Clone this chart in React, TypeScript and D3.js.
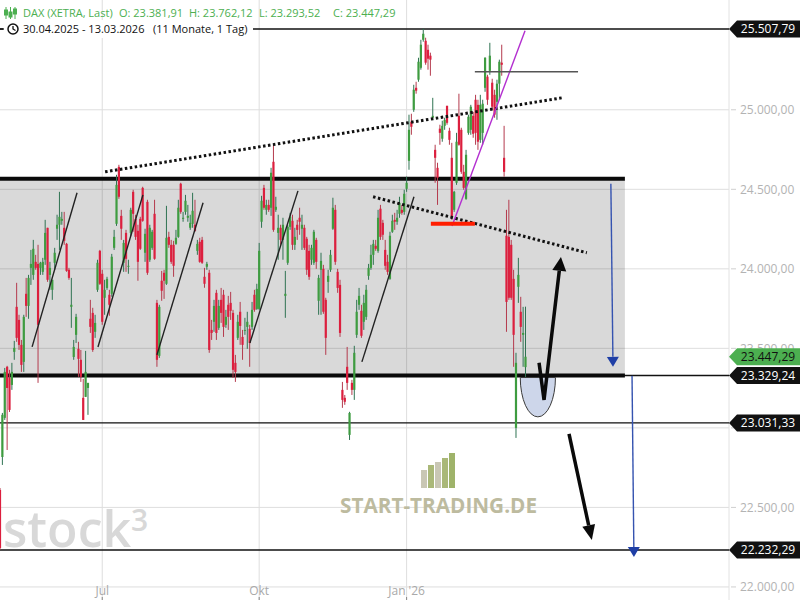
import React from "react";
import * as d3 from "d3";

// ---------- data (DAX XETRA daily, 30.04.2025 - 13.03.2026) ----------
const opens = [22610,22817,23063,23384,23314,23270,23478,23761,23679,23522,23415,23843,23767,24006,23962,24044,24031,24006,23981,24057,24258,23962,23868,24038,24252,24277,24302,24258,24157,23994,23761,23446,23585,23497,23428,23189,23195,23251,23686,23723,23604,23868,24113,23969,23818,23880,23837,23843,24132,24283,24641,24333,24038,24226,24013,24226,24484,24314,24239,24314,24509,24101,24421,24057,24132,24346,23786,23453,23925,23975,23906,24201,24151,24151,24157,24201,24535,24314,24358,24321,24258,24283,24277,24113,24170,24182,23950,24013,23975,23616,23667,23849,23629,23805,23837,23648,23774,23786,23723,23409,23566,23730,23572,23610,23635,23623,23635,23837,23748,23748,24296,24509,24371,24402,24384,24673,24371,24226,24258,24182,23830,24038,24264,24302,24151,24277,24321,24252,24258,24189,24113,24057,24038,24182,23799,23994,24000,23805,23918,23994,24252,24371,23981,23899,23239,23189,23384,22956,23283,23239,23585,23774,23736,23667,23698,23956,24006,24088,24145,24113,24378,24289,24119,24044,23937,24233,24308,24296,24346,24371,24358,24503,24679,24925,25000,25138,25189,25264,25440,25434,25377,25340,24950,24748,24635,24881,24818,24899,25025,24868,24698,24371,24541,24962,24874,24610,24440,24855,24874,24962,25063,25031,24811,24855,25138,25208,25245,25170,25094,25050,25164,25296,24698,24208,24201,24151,23937,23000,23887,23730,23585,23381.91];
const highs = [22622,23094,23377,23390,23365,23409,23547,23912,23711,23553,23711,23943,23962,24119,24182,24088,24151,24044,24069,24308,24258,24044,23931,24132,24340,24484,24358,24358,24163,24006,23943,23553,23717,23541,23490,23308,23484,23283,23805,23755,23711,24057,24119,23994,23931,23950,23868,24094,24245,24591,24654,24371,24182,24245,24057,24384,24497,24340,24277,24327,24516,24252,24434,24277,24245,24434,23805,23774,23987,23994,24396,24233,24182,24176,24245,24434,24541,24358,24465,24402,24340,24478,24434,24182,24195,24201,24006,24044,23994,23679,23805,23868,23805,23880,23868,23742,23830,23855,23742,23459,23711,23792,23616,23692,23730,23648,23792,23868,23906,24163,24459,24528,24434,24434,24635,24780,24453,24340,24277,24321,23987,24277,24352,24340,24258,24308,24384,24340,24277,24201,24151,24151,24245,24195,23962,24101,24025,23818,23994,24119,24447,24402,24000,23931,23289,23207,23509,23101,23302,23516,23805,23880,23774,23837,23899,24031,24151,24182,24182,24371,24402,24308,24182,24088,24233,24340,24352,24371,24453,24402,24497,24579,24969,24975,25157,25176,25327,25440,25509,25453,25409,25359,25075,24780,24667,24906,24931,24950,25025,24887,24792,24490,24855,25101,24887,24654,24748,24969,25031,24987,25094,25063,25094,25063,25330,25220,25421,25195,25126,25189,25315,25409,24899,24371,24434,24182,23994,23472,24069,23824,23761,23762.12];
const lows = [22232,22767,23050,22861,23100,23239,23428,23541,23490,23352,23352,23698,23686,23899,23931,23994,23283,23962,23962,24025,23918,23868,23805,23994,24182,24119,24277,24151,23981,23931,23629,23428,23534,23321,23289,23050,23195,23082,23597,23478,23566,23855,23899,23648,23711,23868,23705,23824,24119,24270,24440,24182,23981,23981,23969,24207,24233,24182,23925,24119,24296,24044,23962,24044,24119,24057,23384,23440,23799,23811,23899,24132,24031,23950,24151,24195,24346,24296,24340,24296,24245,24258,24233,24088,24038,24031,23881,23994,23472,23553,23604,23553,23616,23660,23572,23629,23616,23679,23314,23289,23553,23522,23428,23585,23497,23384,23616,23730,23742,23742,24258,24371,24340,24358,24333,24233,24358,24057,24151,24057,23692,24025,24245,24119,24119,24182,24214,24119,24119,23962,23931,24025,24025,24000,23711,23711,23717,23459,23849,23981,24245,24025,23849,23572,23126,23145,23239,22924,23207,23176,23566,23742,23566,23616,23679,23931,23994,24025,24113,24101,24182,24182,23994,23962,23931,24226,24245,24277,24321,24340,24340,24484,24623,24843,24987,25101,25176,25252,25428,25283,25252,25214,24937,24541,24402,24780,24799,24874,24906,24780,24308,24358,24528,24774,24597,24497,24434,24843,24843,24824,24780,24748,24792,24780,25113,25031,25220,25000,24950,24937,25063,25214,24579,23604,23805,23805,23384,22937,23786,23541,23384,23293.52];
const closes = [22245,23082,23352,23251,23113,23352,23503,23566,23522,23396,23698,23767,23943,24031,24126,24006,23648,24038,24044,24226,23931,24006,23931,24101,24277,24327,24314,24176,23987,23943,23774,23509,23698,23434,23321,23050,23352,23283,23635,23490,23660,24038,23906,23667,23868,23937,23774,24076,24201,24528,24453,24252,24163,24063,24019,24371,24346,24201,24044,24126,24302,24220,23975,24258,24233,24063,23428,23761,23862,23925,24195,24151,24044,24019,24195,24384,24358,24321,24428,24333,24289,24365,24239,24157,24044,24038,23906,24031,23490,23597,23767,23597,23767,23723,23635,23698,23698,23736,23365,23352,23667,23641,23522,23616,23667,23534,23742,23742,23874,24113,24428,24384,24402,24371,24604,24245,24390,24258,24182,24277,23843,24264,24327,24151,24201,24245,24296,24277,24132,23994,23950,24132,24233,24044,23943,24050,23730,23566,23956,24088,24384,24044,23880,23597,23176,23164,23283,23094,23239,23472,23730,23830,23579,23786,23868,24006,24088,24157,24126,24321,24201,24214,24019,23981,24208,24302,24296,24321,24415,24352,24472,24541,24874,24893,25126,25120,25302,25409,25478,25296,25321,25315,24962,24698,24572,24855,24899,24937,24918,24811,24321,24484,24799,24780,24610,24509,24717,24956,25019,24849,24855,24799,25031,25038,25327,25063,25340,25019,24969,25164,25302,25283,24610,23792,23818,23818,23585,23409,23962,23635,23597,23447.29];

const priceTicks = [22000, 22500, 23000, 23500, 24000, 24500, 25000];
const timeTickLabels = ["Jul", "Okt", "Jan '26"];
const timeTickIndex = [43, 109, 171];
const levelValues = [25507.79, 23329.24, 23031.33, 22232.29];
const rangeTop = 24566;
const rangeBottom = 23329.24;
const periodText = "30.04.2025 - 13.03.2026";
const spanText = "(11 Monate, 1 Tag)";

// drawn studies, in (candle index, price)
const trendLines = [
  [[13.5, 23509], [32.4, 24478]],
  [[41.2, 23509], [60.1, 24465]],
  [[66.0, 23459], [85.4, 24415]],
  [[105.1, 23534], [125.3, 24490]],
  [[152.2, 23415], [174.1, 24453]],
];
const dottedLines = [
  [[44.2, 24610], [236.3, 25075]],
  [[156.9, 24453], [246.8, 24101]],
];
const magentaLine = [[190.1, 24270], [220.8, 25497]];
const redLevel = [[181.2, 24283], [199.7, 24283]];
const greyLevel = [[199.7, 25239], [243.1, 25239]];
const boxEndIndex = 262.8;
const blueArrows = [
  [[256.9, 24535], [257.8, 23384]],
  [[265.8, 23327], [266.6, 22188]],
];
const vArrow = [[226.7, 23409], [228.8, 23176], [235.9, 24075]];
const downArrow = [[239.3, 22962], [248.9, 22295]];
const bowl = { center: 226.2, halfWidth: 7.4, bottom: 23069 };

const GREEN = "#3e9c40";
const GREEN_WICK = "#2f7352";
const RED = "#dc1f3e";
const RED_WICK = "#b43a4d";
const FONT = "'Open Sans', 'Noto Sans', sans-serif";

function head(x1: number, y1: number, x2: number, y2: number, len: number, w: number) {
  const dx = x2 - x1, dy = y2 - y1;
  const L = Math.hypot(dx, dy);
  const ux = dx / L, uy = dy / L;
  const bx = x2 - ux * len, by = y2 - uy * len;
  const px = -uy, py = ux;
  return {
    base: [bx, by],
    pts: `${x2},${y2} ${bx + (px * w) / 2},${by + (py * w) / 2} ${bx - (px * w) / 2},${by - (py * w) / 2}`,
  };
}

export default function App() {
  const N = opens.length;
  const x = d3.scaleLinear().domain([0, N - 1]).range([0, 525.5]);
  const y = d3.scaleLinear().domain([22232.29, 25507.79]).range([550, 29]);
  const de = d3.formatLocale({ decimal: ",", thousands: ".", grouping: [3], currency: ["", "€"] });
  const fmt = de.format(",.2f");
  const plotR = 729;
  const boxR = x(boxEndIndex);
  const last = N - 1;

  const P = (p: number[]) => [x(p[0]), y(p[1])];

  const tag = (v: number, fill: string, textFill: string, key: string) => {
    const vy = y(v);
    const h = 8.5;
    return (
      <g key={key}>
        <path d={`M${plotR},${vy} L${plotR + 8},${vy - h} L800,${vy - h} L800,${vy + h} L${plotR + 8},${vy + h} Z`} fill={fill} />
        <text x={768} y={vy} dy="0.36em" textAnchor="middle" fontSize={12} fill={textFill} fontFamily={FONT}>
          {fmt(v)}
        </text>
      </g>
    );
  };

  // axis labels hidden by a level tag are not drawn (as in the source chart)
  const visibleTicks = priceTicks.filter((t) => !levelValues.some((v) => Math.abs(y(v) - y(t)) < 9));

  const vPts = vArrow.map(P);
  const vHead = head(vPts[1][0], vPts[1][1], vPts[2][0], vPts[2][1], 14, 14);
  const dPts = downArrow.map(P);
  const dHead = head(dPts[0][0], dPts[0][1], dPts[1][0], dPts[1][1], 15, 13);

  const bx0 = x(bowl.center - bowl.halfWidth);
  const bx1 = x(bowl.center + bowl.halfWidth);
  const bTop = y(rangeBottom) + 2;
  const bRy = y(bowl.bottom) - bTop;
  const bRx = (bx1 - bx0) / 2;

  return (
    <svg width={800} height={600} style={{ position: "fixed", left: 0, top: 0, background: "#fff" }}>
      {/* grid */}
      {priceTicks.map((t) => (
        <line key={"g" + t} x1={0} x2={plotR} y1={y(t)} y2={y(t)} stroke="#dedede" strokeWidth={1} />
      ))}
      {timeTickIndex.map((t, i) => (
        <line key={"v" + i} x1={x(t)} x2={x(t)} y1={0} y2={600} stroke="#dedede" strokeWidth={1} />
      ))}
      <line x1={plotR} x2={plotR} y1={0} y2={600} stroke="#e2e2e2" />

      {/* watermarks */}
      <text x={3} y={547} fontSize={50} fontWeight={600} fill="#d8d8d8" fontFamily={FONT}>stock</text>
      <text x={131} y={531} fontSize={30} fontWeight={600} fill="#d8d8d8" fontFamily={FONT}>3</text>
      <g>
        {[
          [421, 470, "#c9c7b4"],
          [428, 465, "#aab878"],
          [435, 462, "#c9c7b4"],
          [442, 458, "#aab878"],
          [449, 453, "#9fb36a"],
        ].map((b, i) => (
          <rect key={"wb" + i} x={b[0] as number} y={b[1] as number} width={6} height={488 - (b[1] as number)} fill={b[2] as string} />
        ))}
      </g>
      <text x={340} y={513} fontSize={22} fontWeight="bold" fill="#bdbb9f" textLength={197} lengthAdjust="spacingAndGlyphs" fontFamily={FONT}>
        START-TRADING.DE
      </text>

      {/* range box */}
      <rect x={0} y={y(rangeTop)} width={boxR} height={y(rangeBottom) - y(rangeTop)} fill="#000" fillOpacity={0.15} />

      {/* level lines */}
      {levelValues.map((v) => (
        <line key={"l" + v} x1={0} x2={plotR} y1={y(v)} y2={y(v)} stroke="#111" strokeWidth={1.3} />
      ))}
      <line x1={0} x2={boxR} y1={y(rangeTop)} y2={y(rangeTop)} stroke="#0a0a0a" strokeWidth={4} />
      <line x1={0} x2={boxR} y1={y(rangeBottom)} y2={y(rangeBottom)} stroke="#0a0a0a" strokeWidth={4} />

      {/* candles */}
      {opens.map((o, i) => {
        const c = closes[i];
        const up = c >= o;
        const cx = x(i);
        const top = y(Math.max(o, c));
        const bh = Math.max(1, Math.abs(y(o) - y(c)));
        return (
          <g key={"c" + i}>
            <line x1={cx} x2={cx} y1={y(highs[i])} y2={y(lows[i])} stroke={up ? GREEN_WICK : RED_WICK} strokeWidth={1} />
            <rect x={cx - 1.1} y={top} width={2.2} height={bh} fill={up ? GREEN : RED} />
          </g>
        );
      })}

      {/* studies */}
      {trendLines.map((l, i) => {
        const a = P(l[0]), b = P(l[1]);
        return <line key={"t" + i} x1={a[0]} y1={a[1]} x2={b[0]} y2={b[1]} stroke="#222" strokeWidth={1.4} />;
      })}
      {dottedLines.map((l, i) => {
        const a = P(l[0]), b = P(l[1]);
        return <line key={"d" + i} x1={a[0]} y1={a[1]} x2={b[0]} y2={b[1]} stroke="#111" strokeWidth={3} strokeDasharray="2.5 2.5" />;
      })}
      {(() => {
        const a = P(magentaLine[0]), b = P(magentaLine[1]);
        return <line x1={a[0]} y1={a[1]} x2={b[0]} y2={b[1]} stroke="#b32fd0" strokeWidth={1.4} />;
      })()}
      {(() => {
        const a = P(redLevel[0]), b = P(redLevel[1]);
        return <line x1={a[0]} y1={a[1]} x2={b[0]} y2={b[1]} stroke="#ff1e00" strokeWidth={4} />;
      })()}
      {(() => {
        const a = P(greyLevel[0]), b = P(greyLevel[1]);
        return <line x1={a[0]} y1={a[1]} x2={b[0]} y2={b[1]} stroke="#555" strokeWidth={1.5} />;
      })()}

      {/* bowl */}
      <path
        d={`M${bx0},${bTop} A${bRx},${bRy} 0 0 0 ${bx1},${bTop} Z`}
        fill="#cdd6ea"
        stroke="#3a3a3a"
        strokeWidth={1}
      />

      {/* blue arrows */}
      {blueArrows.map((l, i) => {
        const a = P(l[0]), b = P(l[1]);
        const h = head(a[0], a[1], b[0], b[1], 10, 12);
        return (
          <g key={"ba" + i}>
            <line x1={a[0]} y1={a[1]} x2={h.base[0]} y2={h.base[1]} stroke="#3553b0" strokeWidth={1.4} />
            <polygon points={h.pts} fill="#1f3fa6" />
          </g>
        );
      })}

      {/* black arrows */}
      <polyline
        points={`${vPts[0][0]},${vPts[0][1]} ${vPts[1][0]},${vPts[1][1]} ${vHead.base[0]},${vHead.base[1]}`}
        fill="none"
        stroke="#0a0a0a"
        strokeWidth={3.5}
        strokeLinejoin="miter"
      />
      <polygon points={vHead.pts} fill="#0a0a0a" />
      <line x1={dPts[0][0]} y1={dPts[0][1]} x2={dHead.base[0]} y2={dHead.base[1]} stroke="#0a0a0a" strokeWidth={3.5} />
      <polygon points={dHead.pts} fill="#0a0a0a" />

      {/* right axis labels */}
      {priceTicks.map((t) => (
        <line key={"pt" + t} x1={plotR + 2} x2={plotR + 7} y1={y(t)} y2={y(t)} stroke="#cfcfcf" />
      ))}
      {visibleTicks.map((t) => (
        <text key={"pl" + t} x={740} y={y(t)} dy="0.36em" fontSize={12} fill="#b3b3b3" fontFamily={FONT}>
          {fmt(t)}
        </text>
      ))}
      {tag(closes[last], "#4caf50", "#111", "lastTag")}
      {levelValues.map((v) => tag(v, "#111", "#fff", "tag" + v))}

      {/* time axis */}
      {timeTickIndex.map((t, i) => (
        <g key={"tl" + i}>
          <text x={x(t)} y={595} textAnchor="middle" fontSize={12} fill="#a9a9a9" fontFamily={FONT}>
            {timeTickLabels[i]}
          </text>
          <line x1={x(t)} x2={x(t)} y1={597} y2={600} stroke="#888" />
        </g>
      ))}

      {/* header */}
      <rect x={3} y={20} width={250} height={18} fill="#fff" />
      <g stroke="#4caf50" strokeWidth={1} fill="#4caf50">
        <line x1={6} x2={6} y1={7} y2={19} />
        <rect x={4.5} y={10} width={3} height={5} />
        <line x1={10.5} x2={10.5} y1={7} y2={19} />
        <rect x={9} y={12} width={3} height={5} />
        <line x1={15} x2={15} y1={7} y2={19} />
        <rect x={13.5} y={9} width={3} height={5} />
      </g>
      <g fontSize={11} fill="#4caf50" fontFamily={FONT}>
        <text x={23} y={17}>DAX (XETRA, Last)</text>
        <text x={119} y={17}>{"O: " + fmt(opens[last])}</text>
        <text x={189} y={17}>{"H: " + fmt(highs[last])}</text>
        <text x={259} y={17}>{"L: " + fmt(lows[last])}</text>
        <text x={333} y={17}>{"C: " + fmt(closes[last])}</text>
      </g>
      <line x1={0} x2={4} y1={y(levelValues[0])} y2={y(levelValues[0])} stroke="#111" strokeWidth={1.3} />
      <circle cx={13} cy={29} r={5} fill="none" stroke="#111" strokeWidth={1.5} />
      <polyline points="13,26 13,29 15.5,30.5" fill="none" stroke="#111" strokeWidth={1.3} />
      <g fontSize={11} fill="#111" fontFamily={FONT}>
        <text x={23} y={33}>{periodText}</text>
        <text x={153} y={33}>{spanText}</text>
      </g>
    </svg>
  );
}
